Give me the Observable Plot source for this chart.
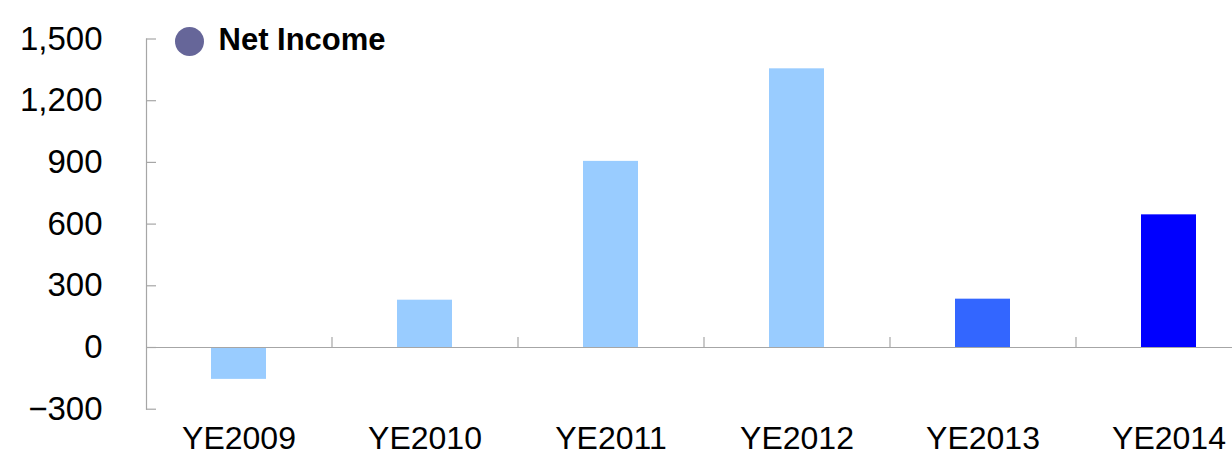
<!DOCTYPE html>
<html>
<head>
<meta charset="utf-8">
<script src="https://cdn.jsdelivr.net/npm/d3@7"></script>
<script src="https://cdn.jsdelivr.net/npm/@observablehq/plot@0.6"></script>
<style>
  html, body { margin: 0; padding: 0; background: #fff; overflow: hidden; }
  #chart svg { display: block; max-width: none; }
</style>
</head>
<body>
<div id="chart"></div>
<script>
// ---- data ----
const categories = ["YE2009", "YE2010", "YE2011", "YE2012", "YE2013", "YE2014"];
const netIncome = [-155, 230, 905, 1355, 235, 645];
const barColors = ["#99CCFF", "#99CCFF", "#99CCFF", "#99CCFF", "#3366FF", "#0000FF"];
const yTicks = [-300, 0, 300, 600, 900, 1200, 1500];
const legendLabel = "Net Income";
const legendColor = "#666699";

const rows = categories.map((c, i) => ({cat: c, value: netIncome[i], color: barColors[i]}));

// ---- layout ----
const W = 1232, H = 460;
const marginLeft = 146, marginRight = -30, marginTop = 38.5, marginBottom = 51.3;
const step = (W - marginRight - marginLeft) / categories.length;
const axisColor = "#a6a6a6";
const font = "'Liberation Sans', Arial, sans-serif";

const chart = Plot.plot({
  width: W,
  height: H,
  marginLeft, marginRight, marginTop, marginBottom,
  style: {fontFamily: font, fontSize: "33px", color: "#000", background: "#fff", overflow: "hidden"},
  x: {domain: categories, paddingInner: 0.704, paddingOuter: 0.352, label: null},
  y: {domain: [-300, 1500], label: null},
  marks: [
    Plot.barY(rows, {x: "cat", y: "value", fill: "color"}),
    Plot.frame({anchor: "left", stroke: axisColor, strokeWidth: 1.2}),
    Plot.ruleY([0], {stroke: axisColor, strokeWidth: 1.2}),
    Plot.ruleX(categories.slice(1), {x: d => d, y1: 0, y2: 0, insetTop: -10, dx: -step / 2, stroke: axisColor, strokeWidth: 1.2}),
    Plot.axisY({ticks: yTicks, tickFormat: d => d3.format(",")(d).replace("-", "\u2212"), tickSize: 10, dx: 10, tickPadding: 44, stroke: axisColor, strokeWidth: 1.2, fill: "#000", fontSize: 33}),
    Plot.axisX({tickSize: 0, tickPadding: 17, fill: "#000", fontSize: 32}),
    Plot.dot([legendLabel], {frameAnchor: "top-left", dx: 43, dy: 2.5, r: 14.5, fill: legendColor, stroke: null}),
    Plot.text([legendLabel], {frameAnchor: "top-left", text: d => d, dx: 72, dy: 1, textAnchor: "start", lineAnchor: "middle", fontWeight: "bold", fontSize: 31, fill: "#000"})
  ]
});
document.getElementById("chart").appendChild(chart);
</script>
</body>
</html>
